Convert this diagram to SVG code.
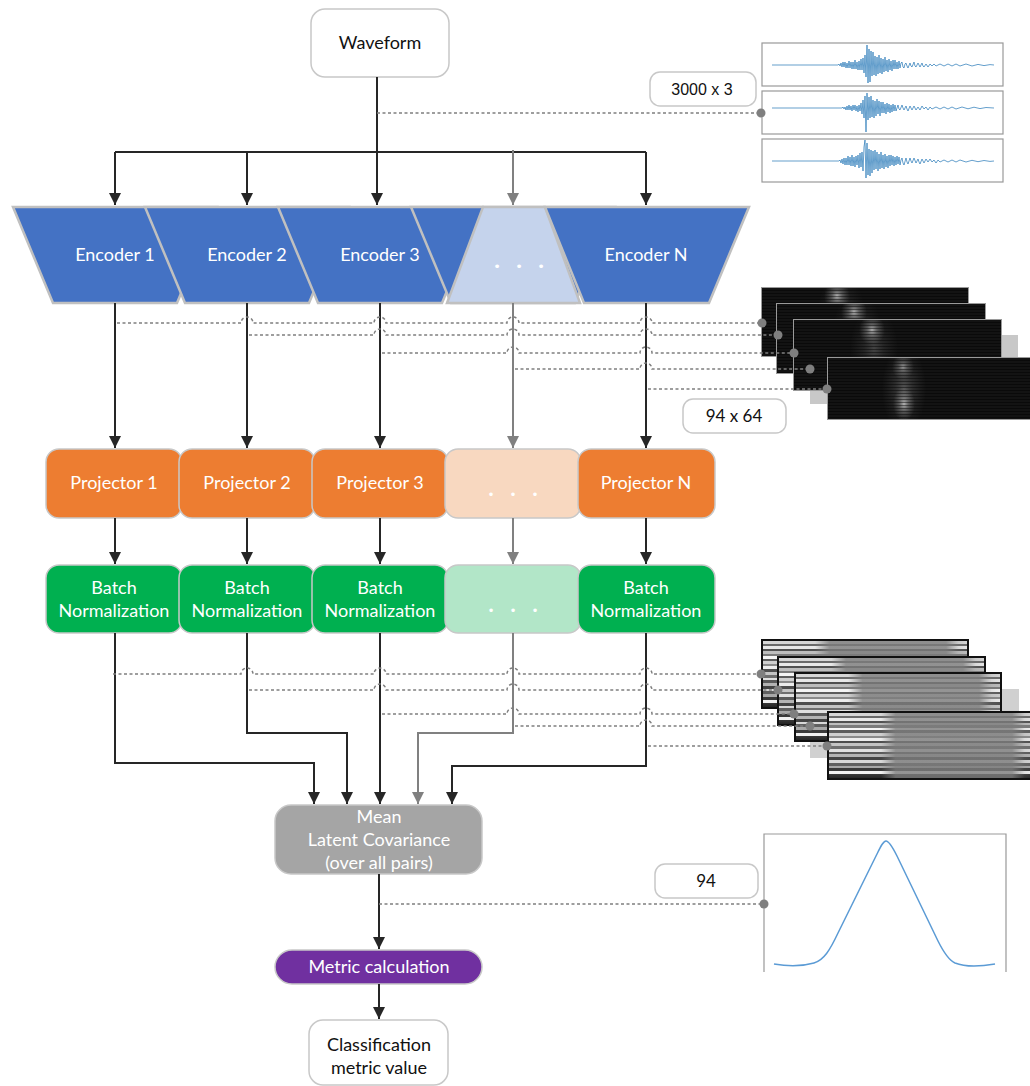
<svg xmlns="http://www.w3.org/2000/svg" width="1030" height="1086" viewBox="0 0 1030 1086">
  <style>
    .t { font-family: Lato, "Liberation Sans", sans-serif; font-size: 18px; text-anchor: middle; }
    .w { fill: #ffffff; }
    .k { fill: #111111; }
    .num { font-family: "Liberation Sans", Arial, sans-serif; font-size: 16px; text-anchor: middle; fill: #111; }
    .dots { font-family: "DejaVu Sans", sans-serif; font-size: 13px; fill: #ffffff; text-anchor: middle; }
    .enc { fill: #4472c4; stroke: #c0c0c0; stroke-width: 2.5; }
    .enc-lt { fill: #c5d3ec; stroke: #c0c0c0; stroke-width: 2.5; }
    .box { stroke: #c8c8c8; stroke-width: 1.5; }
    .proj { fill: #ed7d31; }
    .proj-lt { fill: #f8d8c0; }
    .bn { fill: #00b050; }
    .bn-lt { fill: #b2e6c8; }
    .plain { fill: #ffffff; stroke: #c8c8c8; stroke-width: 1.5; }
    .wire { fill: none; stroke: #262626; stroke-width: 2; }
    .wire-g { fill: none; stroke: #808080; stroke-width: 2; }
    .dash { fill: none; stroke: #7f7f7f; stroke-width: 1.5; stroke-dasharray: 3 2.5; }
    .pin { fill: #7f7f7f; }
    .panel { fill: #ffffff; stroke: #999999; stroke-width: 1.2; }
    .sig { fill: none; stroke: #2276b6; stroke-width: 0.7; stroke-linejoin: round; }
    .fm-border { fill: none; stroke: #9a9a9a; stroke-width: 1; }
    .bn-border { fill: none; stroke: #111; stroke-width: 2; }
  </style>
  <defs>
    <marker id="arr" viewBox="0 0 12 12" refX="12" refY="6" markerWidth="12" markerHeight="12" markerUnits="userSpaceOnUse" orient="auto">
      <path d="M0,0 L12,6 L0,12 z" fill="#262626"/>
    </marker>
    <marker id="arr-g" viewBox="0 0 12 12" refX="12" refY="6" markerWidth="12" markerHeight="12" markerUnits="userSpaceOnUse" orient="auto">
      <path d="M0,0 L12,6 L0,12 z" fill="#808080"/>
    </marker>
    <pattern id="scan-dark" width="6" height="3" patternUnits="userSpaceOnUse">
      <rect width="6" height="1" fill="#000000" opacity="0.45"/>
    </pattern>
    <radialGradient id="glow">
      <stop offset="0" stop-color="#ffffff" stop-opacity="0.7"/>
      <stop offset="0.4" stop-color="#d0d0d0" stop-opacity="0.35"/>
      <stop offset="1" stop-color="#999999" stop-opacity="0"/>
    </radialGradient>
    <linearGradient id="stripes" x1="0" y1="0" x2="0" y2="1">
      <stop offset="0" stop-color="#2a2a2a"/><stop offset=".03" stop-color="#2a2a2a"/>
      <stop offset=".03" stop-color="#d6d6d6"/><stop offset=".07" stop-color="#d6d6d6"/>
      <stop offset=".07" stop-color="#6a6a6a"/><stop offset=".10" stop-color="#6a6a6a"/>
      <stop offset=".10" stop-color="#e8e8e8"/><stop offset=".14" stop-color="#e8e8e8"/>
      <stop offset=".14" stop-color="#505050"/><stop offset=".17" stop-color="#505050"/>
      <stop offset=".17" stop-color="#bdbdbd"/><stop offset=".21" stop-color="#bdbdbd"/>
      <stop offset=".21" stop-color="#7a7a7a"/><stop offset=".24" stop-color="#7a7a7a"/>
      <stop offset=".24" stop-color="#f4f4f4"/><stop offset=".28" stop-color="#f4f4f4"/>
      <stop offset=".28" stop-color="#5c5c5c"/><stop offset=".32" stop-color="#5c5c5c"/>
      <stop offset=".32" stop-color="#cfcfcf"/><stop offset=".36" stop-color="#cfcfcf"/>
      <stop offset=".36" stop-color="#8a8a8a"/><stop offset=".39" stop-color="#8a8a8a"/>
      <stop offset=".39" stop-color="#ececec"/><stop offset=".43" stop-color="#ececec"/>
      <stop offset=".43" stop-color="#4e4e4e"/><stop offset=".47" stop-color="#4e4e4e"/>
      <stop offset=".47" stop-color="#c4c4c4"/><stop offset=".51" stop-color="#c4c4c4"/>
      <stop offset=".51" stop-color="#6e6e6e"/><stop offset=".55" stop-color="#6e6e6e"/>
      <stop offset=".55" stop-color="#e0e0e0"/><stop offset=".59" stop-color="#e0e0e0"/>
      <stop offset=".59" stop-color="#5a5a5a"/><stop offset=".63" stop-color="#5a5a5a"/>
      <stop offset=".63" stop-color="#b4b4b4"/><stop offset=".67" stop-color="#b4b4b4"/>
      <stop offset=".67" stop-color="#444444"/><stop offset=".71" stop-color="#444444"/>
      <stop offset=".71" stop-color="#d8d8d8"/><stop offset=".75" stop-color="#d8d8d8"/>
      <stop offset=".75" stop-color="#606060"/><stop offset=".79" stop-color="#606060"/>
      <stop offset=".79" stop-color="#a8a8a8"/><stop offset=".83" stop-color="#a8a8a8"/>
      <stop offset=".83" stop-color="#3a3a3a"/><stop offset=".87" stop-color="#3a3a3a"/>
      <stop offset=".87" stop-color="#f0f0f0"/><stop offset=".91" stop-color="#f0f0f0"/>
      <stop offset=".91" stop-color="#3a3a3a"/><stop offset="1" stop-color="#1a1a1a"/>
    </linearGradient>
    <linearGradient id="fade" x1="0" y1="0" x2="1" y2="0">
      <stop offset="0" stop-color="#808080" stop-opacity="0"/>
      <stop offset="0.26" stop-color="#808080" stop-opacity="0"/>
      <stop offset="0.33" stop-color="#7c7c7c" stop-opacity="0.8"/>
      <stop offset="0.89" stop-color="#7c7c7c" stop-opacity="0.8"/>
      <stop offset="0.95" stop-color="#808080" stop-opacity="0.15"/>
      <stop offset="1" stop-color="#808080" stop-opacity="0"/>
    </linearGradient>
  </defs>

  <rect width="1030" height="1086" fill="#ffffff"/>

  <!-- input waveform traces (3 channels) -->
  <g id="waveform-plot">
    <rect class="panel" x="762" y="43" width="241" height="43"/>
    <rect class="panel" x="762" y="91" width="241" height="43"/>
    <rect class="panel" x="762" y="139" width="241" height="43"/>
    <polyline class="sig" transform="translate(0,65)" points="772,0 838,0 839,-1 840,1 841,-2 842,2 843,-3 844,2 845,-3 846,3 847,-2 848,3 849,-4 850,3 851,-3 852,4 853,-3 854,4 855,-5 856,4 857,-3 858,5 859,-4 860,5 861,-6 862,5 863,-7 864,8 865,-10 866,12 867,-20 868,18 869,-16 870,17 871,-14 872,11 873,-13 874,10 875,-9 876,11 877,-8 878,9 879,-10 880,8 881,-7 882,9 883,-6 884,7 885,-8 886,6 887,-5 888,7 889,-6 890,5 891,-4 892,6 893,-5 894,4 895,-5 896,4 897,-3 898,4 899,-4 900,3 901,-2 902,-3 903,2 904,3 905,-1 906,-2 907,1 908,3 910,-2 911,1 912,2 914,-3 915,1 916,2 918,-2 919,0 920,2 922,-2 923,1 924,2 926,-1 928,2 930,-1 932,1 934,-1 936,1 940,-1 944,1 948,-1 952,1 956,-1 960,1 966,-1 972,1 978,-0.6 984,0.6 990,-0.4 994,0"/>
    <polyline class="sig" transform="translate(0,108)" points="772,0 842,0 843,-1 844,1 845,-1 846,2 847,-2 848,2 849,-3 850,2 851,-2 852,3 853,-3 854,2 855,-3 856,3 857,-2 858,4 859,-3 860,3 861,-5 862,6 863,-8 864,10 865,-12 866,24 867,-15 868,12 869,-11 870,10 871,-12 872,9 873,-8 874,10 875,-7 876,8 877,-9 878,6 879,-7 880,8 881,-6 882,5 883,-6 884,5 885,-4 886,6 887,-5 888,4 889,-4 890,5 891,-3 892,4 893,-4 894,3 895,-3 896,3 898,-3 899,1 900,2 902,-3 903,0 904,2 906,-2 907,1 908,3 910,-2 912,2 914,-2 916,2 918,-1 920,2 922,-2 924,1 926,-1 928,2 930,-1 932,1 936,-1 940,1 944,-1 948,1 952,-1 956,1 962,-1 968,0.8 974,-0.8 980,0.6 986,-0.5 994,0"/>
    <polyline class="sig" transform="translate(0,161)" points="772,0 839,0 840,-1 841,2 842,-2 843,3 844,-3 845,4 846,-3 847,4 848,-5 849,4 850,-4 851,5 852,-6 853,5 854,-4 855,6 856,-5 857,4 858,-6 859,7 860,-8 861,6 862,-9 863,10 864,-14 865,-21 866,17 867,-18 868,14 869,-12 870,15 871,-11 872,12 873,-10 874,9 875,-11 876,8 877,-9 878,10 879,-7 880,8 881,-9 882,7 883,-6 884,8 885,-7 886,6 887,-5 888,7 889,-6 890,5 891,-6 892,4 893,-5 894,5 895,-4 896,4 897,-5 898,3 899,-4 900,4 901,-1 902,-3 903,2 904,4 906,-3 907,1 908,3 910,-3 911,0 912,2 914,-3 916,2 918,-2 919,1 920,3 922,-2 924,2 926,-2 928,1 930,-2 932,1 934,-1 936,2 938,-1 940,1 944,-1 948,1 952,-1 956,1 960,-1 966,1 972,-0.7 978,0.7 984,-0.5 990,0.4 994,0"/>
  </g>

  <!-- encoder feature maps (stack) -->
  <g id="encoder-maps">
    <rect x="810" y="335" width="208" height="69" fill="#c8c8c8"/>
    <svg x="761" y="287" width="208" height="70">
      <rect width="208" height="70" fill="#131313"/>
      <ellipse cx="80" cy="28" rx="24" ry="40" fill="url(#glow)" opacity="0.3"/>
      <ellipse cx="76" cy="9" rx="13" ry="15" fill="url(#glow)" opacity="0.9"/>
      <rect width="208" height="70" fill="url(#scan-dark)"/>
      <rect class="fm-border" x="0.5" y="0.5" width="207" height="69"/>
    </svg>
    <svg x="776" y="303" width="210" height="71">
      <rect width="210" height="71" fill="#131313"/>
      <ellipse cx="81" cy="28" rx="24" ry="40" fill="url(#glow)" opacity="0.3"/>
      <ellipse cx="78" cy="9" rx="13" ry="15" fill="url(#glow)" opacity="0.9"/>
      <rect width="210" height="71" fill="url(#scan-dark)"/>
      <rect class="fm-border" x="0.5" y="0.5" width="209" height="70"/>
    </svg>
    <svg x="793" y="319" width="209" height="72">
      <rect width="209" height="72" fill="#131313"/>
      <ellipse cx="81" cy="30" rx="24" ry="40" fill="url(#glow)" opacity="0.3"/>
      <ellipse cx="79" cy="11" rx="13" ry="15" fill="url(#glow)" opacity="0.9"/>
      <rect width="209" height="72" fill="url(#scan-dark)"/>
      <rect class="fm-border" x="0.5" y="0.5" width="208" height="71"/>
    </svg>
    <svg x="827" y="357" width="210" height="63">
      <rect width="210" height="63" fill="#131313"/>
      <ellipse cx="77" cy="32" rx="22" ry="44" fill="url(#glow)" opacity="0.4"/>
      <ellipse cx="76" cy="10" rx="11" ry="13" fill="url(#glow)" opacity="0.7"/>
      <ellipse cx="77" cy="47" rx="11" ry="17" fill="url(#glow)" opacity="0.9"/>
      <rect width="210" height="63" fill="url(#scan-dark)"/>
      <rect class="fm-border" x="0.5" y="0.5" width="209" height="62"/>
    </svg>
  </g>

  <!-- batch-norm output maps (stack) -->
  <g id="bn-maps">
    <rect x="810" y="689" width="209" height="69" fill="#d0d0d0"/>
    <svg x="761" y="639" width="208" height="70">
      <rect width="208" height="70" fill="url(#stripes)"/>
      <rect width="208" height="70" fill="url(#fade)"/>
      <rect class="bn-border" x="1" y="1" width="206" height="68"/>
    </svg>
    <svg x="777" y="656" width="209" height="70">
      <rect width="209" height="70" fill="url(#stripes)"/>
      <rect width="209" height="70" fill="url(#fade)"/>
      <rect class="bn-border" x="1" y="1" width="207" height="68"/>
    </svg>
    <svg x="794" y="672" width="208" height="70">
      <rect width="208" height="70" fill="url(#stripes)"/>
      <rect width="208" height="70" fill="url(#fade)"/>
      <rect class="bn-border" x="1" y="1" width="206" height="68"/>
    </svg>
    <svg x="827" y="711" width="208" height="69">
      <rect width="208" height="69" fill="url(#stripes)"/>
      <rect width="208" height="69" fill="url(#fade)"/>
      <rect class="bn-border" x="1" y="1" width="206" height="67"/>
    </svg>
  </g>

  <!-- covariance profile plot -->
  <g id="covariance-plot">
    <path d="M764,972 V834 H1006 V972" fill="none" stroke="#999999" stroke-width="1.2"/>
    <path d="M774,964 C785,966 800,967 814,963 C824,960 830,950 838,933 L876,856 C880,848 883,841 886,841 C889,841 893,848 897,856 L938,941 C943,951 948,960 955,963 C965,967 978,967 995,964" fill="none" stroke="#5b9bd5" stroke-width="1.5"/>
  </g>

  <!-- nodes -->
  <g id="waveform">
    <rect class="plain" x="311" y="9" width="138" height="68" rx="14"/>
    <text class="t k" x="380" y="49">Waveform</text>
  </g>
  <g id="shape-3000x3">
    <rect class="plain" x="650" y="72" width="106" height="34" rx="10"/>
    <text class="num" x="702" y="95">3000 x 3</text>
  </g>

  <g id="encoder-1">
    <polygon class="enc" points="13,207 217,207 177,303 53,303"/>
    <text class="t w" x="115" y="261">Encoder 1</text>
  </g>
  <g id="encoder-2">
    <polygon class="enc" points="145,207 349,207 309,303 185,303"/>
    <text class="t w" x="247" y="261">Encoder 2</text>
  </g>
  <g id="encoder-3">
    <polygon class="enc" points="278,207 482,207 442,303 318,303"/>
    <text class="t w" x="380" y="261">Encoder 3</text>
  </g>
  <g id="encoder-more">
    <polygon class="enc" points="411,207 615,207 575,303 451,303"/>
    <polygon class="enc-lt" points="483,207 545,207 580,303 447,303"/>
    <text class="dots"><tspan x="497 519 541" y="271">•••</tspan></text>
  </g>
  <g id="encoder-n">
    <polygon class="enc" points="545,207 749,207 709,303 584,303"/>
    <text class="t w" x="646" y="261">Encoder N</text>
  </g>

  <g id="shape-94x64">
    <rect class="plain" x="683" y="399" width="103" height="34" rx="10"/>
    <text class="t k" x="734" y="422" style="font-size:17px">94 x 64</text>
  </g>

  <g id="projector-1">
    <rect class="box proj" x="46" y="449" width="136" height="69" rx="13"/>
    <text class="t w" x="114" y="489">Projector 1</text>
  </g>
  <g id="projector-2">
    <rect class="box proj" x="179" y="449" width="136" height="69" rx="13"/>
    <text class="t w" x="247" y="489">Projector 2</text>
  </g>
  <g id="projector-3">
    <rect class="box proj" x="312" y="449" width="136" height="69" rx="13"/>
    <text class="t w" x="380" y="489">Projector 3</text>
  </g>
  <g id="projector-more">
    <rect class="box proj-lt" x="445" y="449" width="136" height="69" rx="13"/>
    <text class="dots" style="font-size:12px"><tspan x="491 513 535" y="499">•••</tspan></text>
  </g>
  <g id="projector-n">
    <rect class="box proj" x="578" y="449" width="137" height="69" rx="13"/>
    <text class="t w" x="646" y="489">Projector N</text>
  </g>

  <g id="batchnorm-1">
    <rect class="box bn" x="46" y="565" width="136" height="68" rx="13"/>
    <text class="t w" x="114" y="594">Batch</text>
    <text class="t w" x="114" y="617">Normalization</text>
  </g>
  <g id="batchnorm-2">
    <rect class="box bn" x="179" y="565" width="136" height="68" rx="13"/>
    <text class="t w" x="247" y="594">Batch</text>
    <text class="t w" x="247" y="617">Normalization</text>
  </g>
  <g id="batchnorm-3">
    <rect class="box bn" x="312" y="565" width="136" height="68" rx="13"/>
    <text class="t w" x="380" y="594">Batch</text>
    <text class="t w" x="380" y="617">Normalization</text>
  </g>
  <g id="batchnorm-more">
    <rect class="box bn-lt" x="445" y="565" width="136" height="68" rx="13"/>
    <text class="dots" style="font-size:12px"><tspan x="491 513 535" y="615">•••</tspan></text>
  </g>
  <g id="batchnorm-n">
    <rect class="box bn" x="578" y="565" width="137" height="68" rx="13"/>
    <text class="t w" x="646" y="594">Batch</text>
    <text class="t w" x="646" y="617">Normalization</text>
  </g>

  <g id="mean-covariance">
    <rect class="box" fill="#a5a5a5" x="275" y="805" width="207" height="69" rx="16"/>
    <text class="t w" x="379" y="823">Mean</text>
    <text class="t w" x="379" y="846">Latent Covariance</text>
    <text class="t w" x="379" y="869">(over all pairs)</text>
  </g>
  <g id="shape-94">
    <rect class="plain" x="655" y="864" width="103" height="34" rx="10"/>
    <text class="t k" x="706" y="887" style="font-size:17px">94</text>
  </g>
  <g id="metric-calculation">
    <rect class="box" fill="#7030a0" x="275" y="950" width="207" height="34" rx="17"/>
    <text class="t w" x="379" y="973">Metric calculation</text>
  </g>
  <g id="classification">
    <rect class="plain" x="309" y="1020" width="139" height="65" rx="14"/>
    <text class="t k" x="379" y="1051">Classification</text>
    <text class="t k" x="379" y="1074">metric value</text>
  </g>

  <!-- connectors -->
  <g id="connectors">
    <!-- waveform fan-out -->
    <path class="wire" d="M377,77 V205" marker-end="url(#arr)"/>
    <path class="wire" d="M115,152 H646"/>
    <path class="wire" d="M115,152 V205" marker-end="url(#arr)"/>
    <path class="wire" d="M247,153 V205" marker-end="url(#arr)"/>
    <path class="wire" d="M646,152 V205" marker-end="url(#arr)"/>
    <path class="wire-g" d="M513,150 V205" marker-end="url(#arr-g)"/>

    <!-- encoder to projector -->
    <path class="wire" d="M115,303 V448" marker-end="url(#arr)"/>
    <path class="wire" d="M247,303 V448" marker-end="url(#arr)"/>
    <path class="wire" d="M380,303 V448" marker-end="url(#arr)"/>
    <path class="wire-g" d="M513,303 V448" marker-end="url(#arr-g)"/>
    <path class="wire" d="M646,303 V448" marker-end="url(#arr)"/>

    <!-- projector to batch norm -->
    <path class="wire" d="M115,518 V564" marker-end="url(#arr)"/>
    <path class="wire" d="M247,518 V564" marker-end="url(#arr)"/>
    <path class="wire" d="M380,518 V564" marker-end="url(#arr)"/>
    <path class="wire-g" d="M513,518 V564" marker-end="url(#arr-g)"/>
    <path class="wire" d="M646,518 V564" marker-end="url(#arr)"/>

    <!-- batch norm to mean covariance -->
    <path class="wire" d="M115,633 V763 H314 V804" marker-end="url(#arr)"/>
    <path class="wire" d="M247,633 V733 H347 V804" marker-end="url(#arr)"/>
    <path class="wire" d="M380,633 V804" marker-end="url(#arr)"/>
    <path class="wire-g" d="M513,633 V733 H418 V804" marker-end="url(#arr-g)"/>
    <path class="wire" d="M646,633 V766 H452 V804" marker-end="url(#arr)"/>

    <!-- tail -->
    <path class="wire" d="M379,874 V949" marker-end="url(#arr)"/>
    <path class="wire" d="M379,984 V1019" marker-end="url(#arr)"/>

    <!-- tensor taps -->
    <path class="dash" d="M377,113 H761"/>
    <circle class="pin" cx="761" cy="113" r="4.5"/>

    <path class="dash" d="M117,323 H241 A6,6 0 0 1 253,323 H374 A6,6 0 0 1 386,323 H507 A6,6 0 0 1 519,323 H640 A6,6 0 0 1 652,323 H762"/>
    <path class="dash" d="M249,335 H374 A6,6 0 0 1 386,335 H507 A6,6 0 0 1 519,335 H640 A6,6 0 0 1 652,335 H778"/>
    <path class="dash" d="M382,353 H507 A6,6 0 0 1 519,353 H640 A6,6 0 0 1 652,353 H794"/>
    <path class="dash" d="M515,369 H640 A6,6 0 0 1 652,369 H810"/>
    <path class="dash" d="M648,389 H827"/>
    <circle class="pin" cx="762" cy="323" r="4.5"/>
    <circle class="pin" cx="778" cy="335" r="4.5"/>
    <circle class="pin" cx="794" cy="353" r="4.5"/>
    <circle class="pin" cx="810" cy="369" r="4.5"/>
    <circle class="pin" cx="827" cy="389" r="4.5"/>

    <path class="dash" d="M113,674 H241 A6,6 0 0 1 253,674 H374 A6,6 0 0 1 386,674 H507 A6,6 0 0 1 519,674 H640 A6,6 0 0 1 652,674 H761"/>
    <path class="dash" d="M249,690 H374 A6,6 0 0 1 386,690 H507 A6,6 0 0 1 519,690 H640 A6,6 0 0 1 652,690 H778"/>
    <path class="dash" d="M382,714 H507 A6,6 0 0 1 519,714 H640 A6,6 0 0 1 652,714 H794"/>
    <path class="dash" d="M515,726 H640 A6,6 0 0 1 652,726 H810"/>
    <path class="dash" d="M648,746 H827"/>
    <circle class="pin" cx="761" cy="674" r="4.5"/>
    <circle class="pin" cx="778" cy="690" r="4.5"/>
    <circle class="pin" cx="794" cy="714" r="4.5"/>
    <circle class="pin" cx="810" cy="726" r="4.5"/>
    <circle class="pin" cx="827" cy="746" r="4.5"/>

    <path class="dash" d="M379,904 H764"/>
    <circle class="pin" cx="764" cy="904" r="4.5"/>
  </g>
</svg>
